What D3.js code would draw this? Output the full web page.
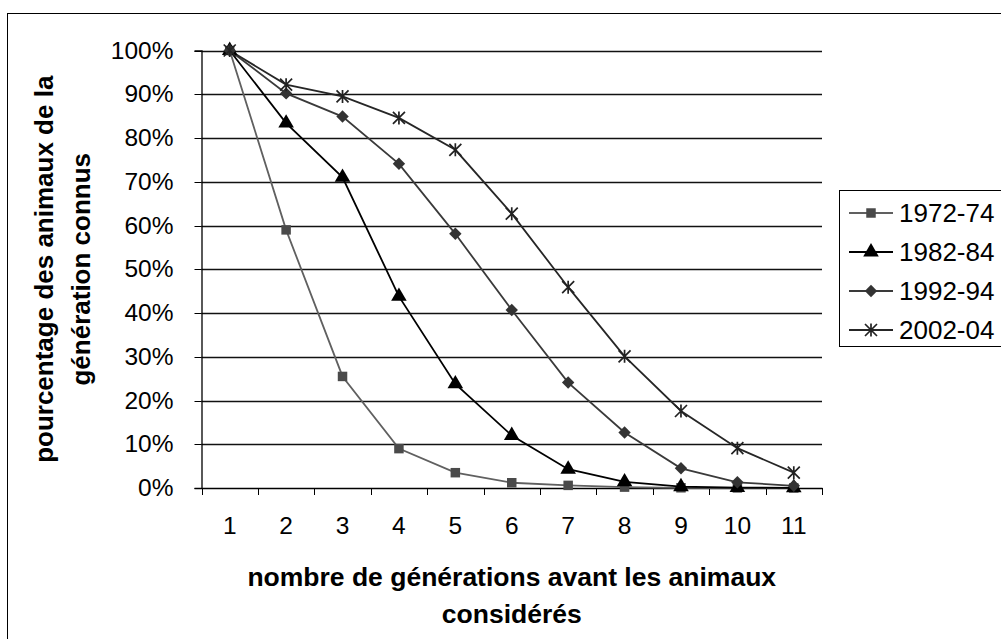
<!DOCTYPE html>
<html><head><meta charset="utf-8">
<script src="https://cdn.jsdelivr.net/npm/d3@7"></script>
<style>body{margin:0;background:#fff}svg{display:block;font-family:"Liberation Sans",Arial,sans-serif}</style>
</head><body>
<svg id="c" width="1001" height="639"></svg>
<script>
const categories = [1,2,3,4,5,6,7,8,9,10,11];
const s1972 = [100, 59.0, 25.5, 9.0, 3.5, 1.2, 0.6, 0.2, 0.05, 0.02, 0.01];
const s1982 = [100, 83.4, 71.0, 43.8, 23.8, 12.0, 4.3, 1.4, 0.3, 0.1, 0.05];
const s1992 = [100, 90.2, 84.9, 74.1, 58.1, 40.7, 24.1, 12.7, 4.5, 1.3, 0.5];
const s2002 = [100, 92.2, 89.5, 84.6, 77.3, 62.7, 45.9, 30.1, 17.6, 9.1, 3.5];
const seriesNames = ["1972-74","1982-84","1992-94","2002-04"];
const yTicks = [0,10,20,30,40,50,60,70,80,90,100];

const series = [
  {name: seriesNames[0], values: s1972, color: "#606060", mcolor: "#4a4a4a", marker: "square"},
  {name: seriesNames[1], values: s1982, color: "#000", mcolor: "#000", marker: "triangle"},
  {name: seriesNames[2], values: s1992, color: "#3a3a3a", mcolor: "#333", marker: "diamond"},
  {name: seriesNames[3], values: s2002, color: "#262626", mcolor: "#222", marker: "star"}
];

const svg = d3.select("#c");
const L = 201.5, R = 822, T = 50.5, B = 488;
const x = d3.scaleBand().domain(categories).range([L, R]).padding(0);
const y = d3.scaleLinear().domain([0, 100]).range([B, T]);

// outer border
svg.append("rect").attr("x",7.5).attr("y",13.5).attr("width",1100).attr("height",700)
  .attr("fill","none").attr("stroke","#000").attr("stroke-width",1);

// gridlines
svg.append("g").selectAll("line").data(yTicks.filter(d=>d>0)).join("line")
  .attr("x1",L).attr("x2",R).attr("y1",d=>Math.round(y(d))+0.5).attr("y2",d=>Math.round(y(d))+0.5)
  .attr("stroke","#111").attr("stroke-width",1.3);

// y axis
const ya = svg.append("g").attr("transform",`translate(${L},0)`)
  .call(d3.axisLeft(y).tickValues(yTicks).tickFormat(d=>d+"%").tickSize(7).tickPadding(21));
ya.select(".domain").attr("stroke","#000").attr("stroke-width",1.3);
ya.selectAll(".tick line").attr("stroke","#000");
ya.selectAll("text").attr("font-size",24.5).attr("fill","#000").attr("font-family","Liberation Sans, Arial");
ya.selectAll(".tick").attr("transform",d=>`translate(0,${Math.round(y(d))+0.5})`);

// x axis
const xa = svg.append("g").attr("transform",`translate(0,${B})`)
  .call(d3.axisBottom(x).tickSize(0).tickPadding(29).tickSizeOuter(0));
xa.select(".domain").attr("stroke","#000").attr("stroke-width",1.3);
xa.selectAll("text").attr("font-size",24.5).attr("fill","#000").attr("font-family","Liberation Sans, Arial");
const edges = categories.map(c=>x(c)).concat([x(categories[categories.length-1])+x.bandwidth()]);
xa.selectAll(".edge").data(edges).join("line").attr("class","edge")
  .attr("x1",d=>Math.round(d)+0.5).attr("x2",d=>Math.round(d)+0.5).attr("y1",0).attr("y2",7)
  .attr("stroke","#000");

// lines
const line = d3.line().x((d,i)=>x(categories[i])+x.bandwidth()/2).y(d=>y(d));
const markerPath = {
  square: d3.symbol(d3.symbolSquare, 90)(),
  triangle: d3.symbol(d3.symbolTriangle, 105)(),
  diamond: "M0,-6.2L6.2,0L0,6.2L-6.2,0Z",
  star: "M0,-6.5V6.5M-6,-6L6,6M-6,6L6,-6"
};
function drawMarker(g, m, color){
  if(m==="star") g.append("path").attr("d",markerPath[m]).attr("stroke",color).attr("stroke-width",1.7).attr("fill","none");
  else g.append("path").attr("d",markerPath[m]).attr("fill",color);
}
series.forEach(s=>{
  svg.append("path").attr("d",line(s.values)).attr("fill","none").attr("stroke",s.color).attr("stroke-width",1.8);
});
series.forEach(s=>{
  s.values.forEach((v,i)=>{
    const g = svg.append("g").attr("transform",`translate(${x(categories[i])+x.bandwidth()/2},${y(v)})`);
    drawMarker(g, s.marker, s.mcolor);
  });
});

// legend
svg.append("rect").attr("x",839.5).attr("y",190.5).attr("width",300).attr("height",156)
  .attr("fill","#fff").attr("stroke","#000").attr("stroke-width",1);
series.forEach((s,i)=>{
  const cy = 213 + i*39;
  const g = svg.append("g");
  g.append("line").attr("x1",849).attr("x2",893).attr("y1",cy).attr("y2",cy).attr("stroke",s.color).attr("stroke-width",1.8);
  drawMarker(g.append("g").attr("transform",`translate(871,${cy})`), s.marker, s.mcolor);
  g.append("text").attr("x",899).attr("y",cy).attr("dy","0.36em").attr("font-size",26).text(s.name);
});

// axis titles
const xt = svg.append("text").attr("text-anchor","middle").attr("font-weight","bold").attr("font-size",26.5);
xt.append("tspan").attr("x",(L+R)/2).attr("y",586).text("nombre de générations avant les animaux");
xt.append("tspan").attr("x",(L+R)/2).attr("y",623).text("considérés");

const yt = svg.append("text").attr("text-anchor","middle").attr("font-weight","bold").attr("font-size",26)
  .attr("transform",`translate(0,${(T+B)/2}) rotate(-90)`);
yt.append("tspan").attr("x",0).attr("y",53).text("pourcentage des animaux de la");
yt.append("tspan").attr("x",0).attr("y",90).text("génération connus");
</script>
</body></html>
